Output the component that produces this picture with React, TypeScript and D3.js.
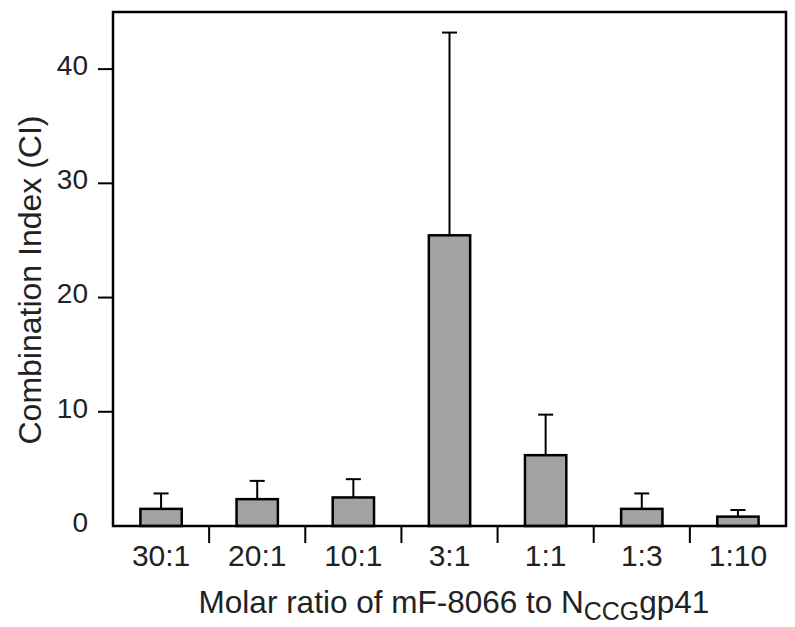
import React from "react";
import * as d3 from "d3";

const categories = ["30:1", "20:1", "10:1", "3:1", "1:1", "1:3", "1:10"];
const values = [1.5, 2.35, 2.5, 25.45, 6.2, 1.5, 0.82];
const errorTops = [2.85, 3.95, 4.1, 43.2, 9.75, 2.85, 1.4];
const yTicks = [0, 10, 20, 30, 40];

const W = 795;
const H = 627;
const left = 113;
const right = 786;
const top = 12;
const bottom = 526;
const font = "'Liberation Sans', Arial, Helvetica, sans-serif";

export default function App() {
  const x = d3.scaleBand<string>().domain(categories).range([left, right]).paddingInner(0).paddingOuter(0);
  const y = d3.scaleLinear().domain([0, 45]).range([bottom, top]);
  const bw = x.bandwidth();
  const barW = bw * 0.43;
  const capW = 15;

  return (
    <svg width={W} height={H} style={{ position: "absolute", left: 0, top: 0, background: "#fff" }}>
      {categories.map((c, i) => {
        const cx = (x(c) as number) + bw / 2;
        return (
          <g key={c}>
            <line x1={cx} x2={cx} y1={y(values[i])} y2={y(errorTops[i])} stroke="#000" strokeWidth={2} />
            <line x1={cx - capW / 2} x2={cx + capW / 2} y1={y(errorTops[i])} y2={y(errorTops[i])} stroke="#000" strokeWidth={2} />
            <rect x={cx - barW / 2} y={y(values[i])} width={barW} height={y(0) - y(values[i])} fill="#a3a3a3" stroke="#000" strokeWidth={2.5} />
          </g>
        );
      })}
      <rect x={left} y={top} width={right - left} height={bottom - top} fill="none" stroke="#000" strokeWidth={2.5} />
      {yTicks.map((t) => (
        <g key={t}>
          {t !== 0 && <line x1={left - 15} x2={left} y1={y(t)} y2={y(t)} stroke="#000" strokeWidth={2} />}
          <text x={88} y={y(t) - 4} dy="0.35em" textAnchor="end" fontFamily={font} fontSize={28} fill="#222">
            {t}
          </text>
        </g>
      ))}
      {categories.slice(1).map((c) => (
        <line key={c} x1={x(c) as number} x2={x(c) as number} y1={bottom} y2={bottom + 17} stroke="#000" strokeWidth={2} />
      ))}
      {categories.map((c) => (
        <text key={c} x={(x(c) as number) + bw / 2} y={566} textAnchor="middle" fontFamily={font} fontSize={30} fill="#222">
          {c}
        </text>
      ))}
      <text x={454} y={613} textAnchor="middle" fontFamily={font} fontSize={31.5} fill="#222">
        Molar ratio of mF-8066 to N
        <tspan fontSize={25} dy={7}>CCG</tspan>
        <tspan dy={-7}>gp41</tspan>
      </text>
      <text transform={`translate(41, 280) rotate(-90)`} textAnchor="middle" fontFamily={font} fontSize={32} fill="#222">
        Combination Index (CI)
      </text>
    </svg>
  );
}
